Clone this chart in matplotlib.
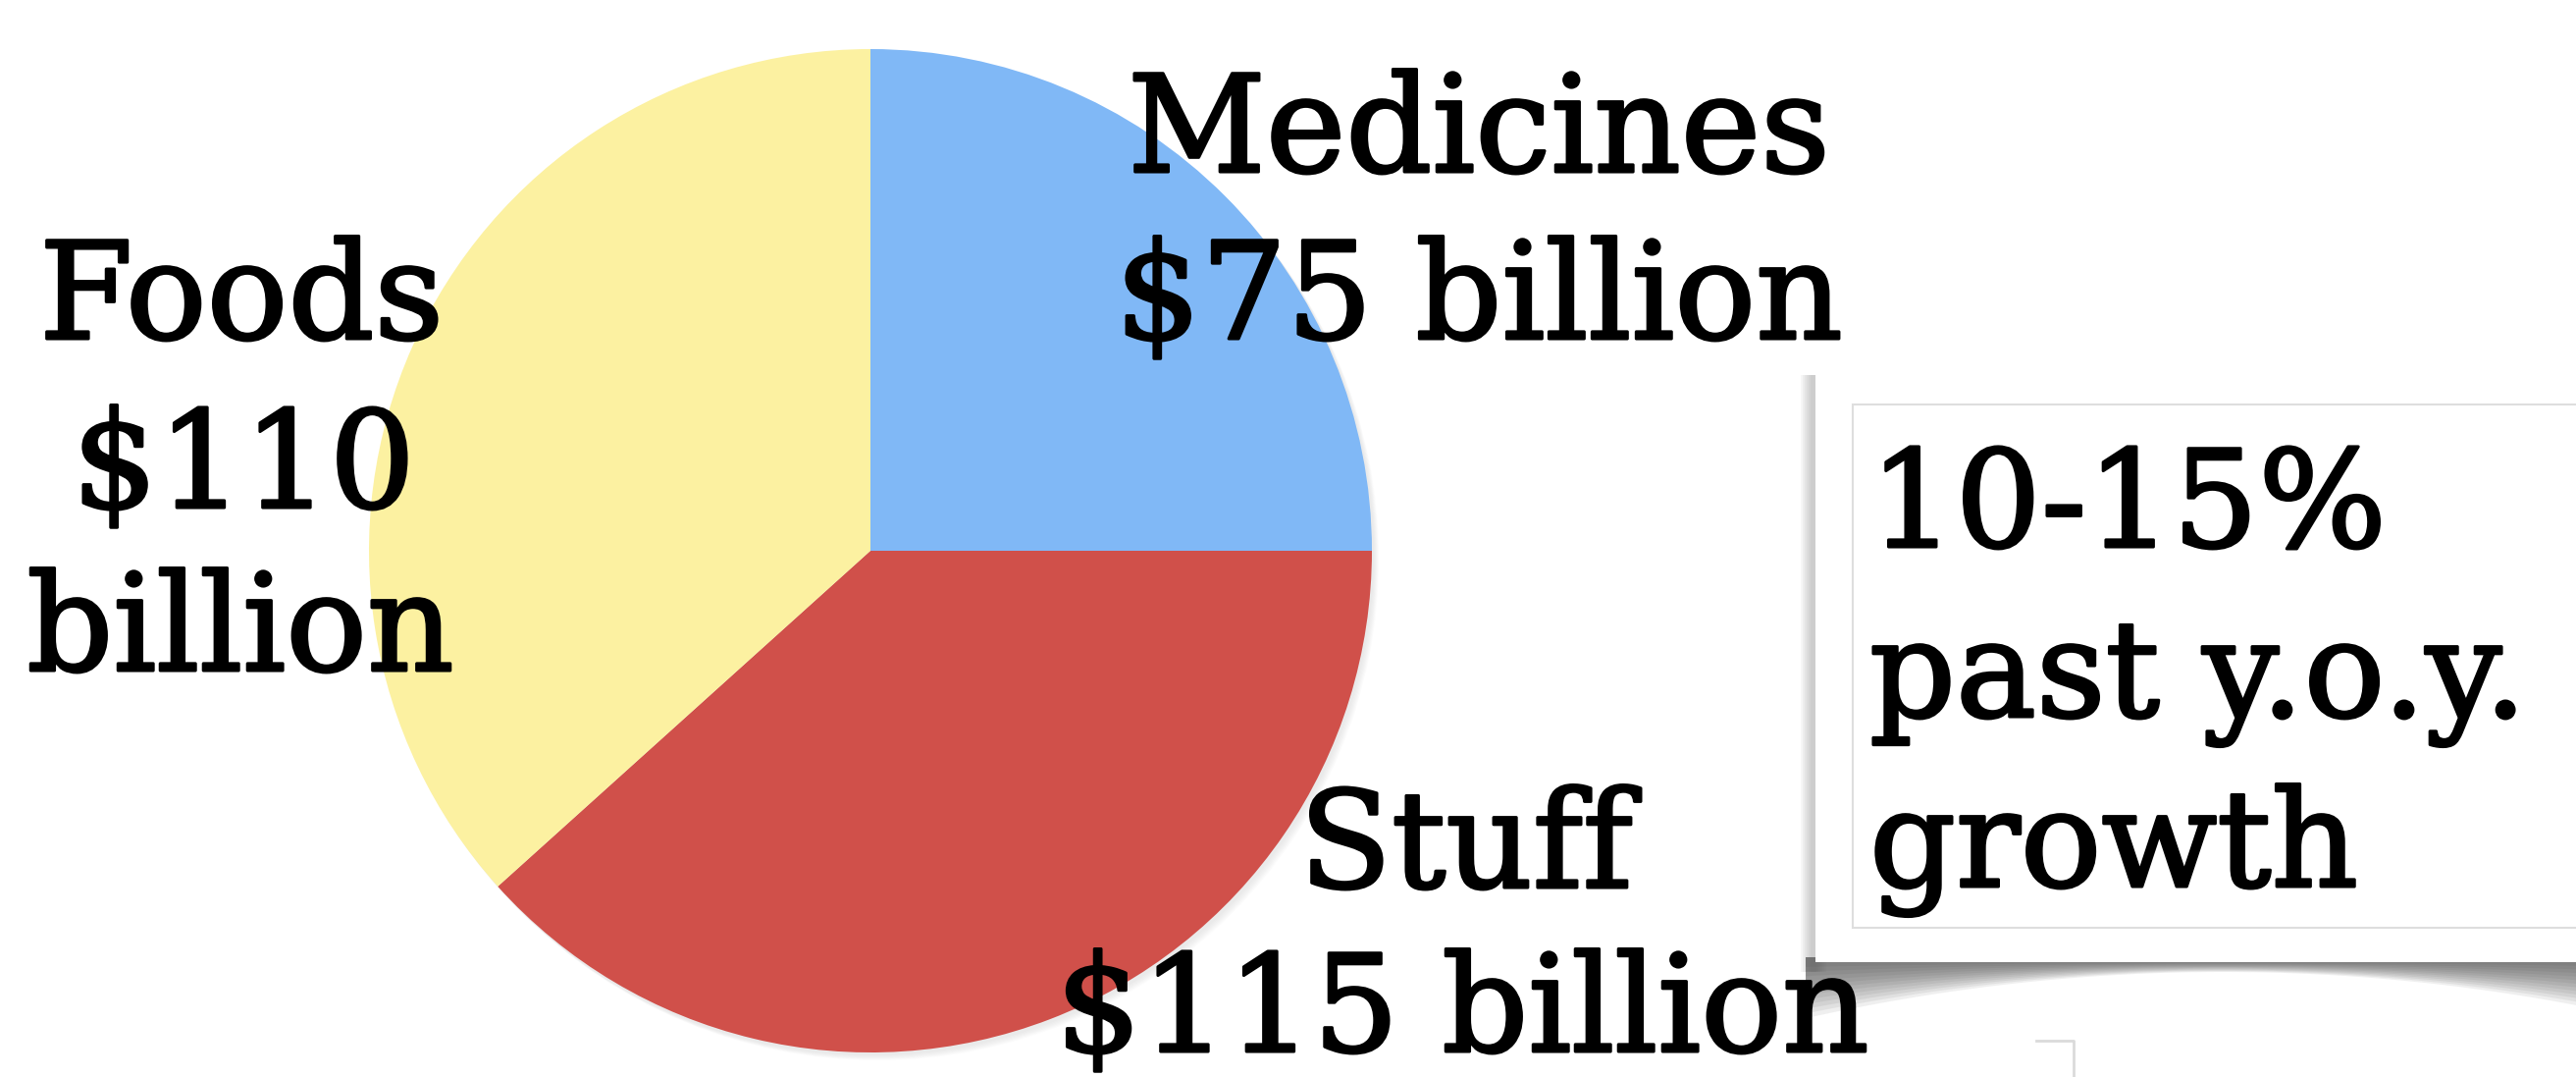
import numpy as np
import matplotlib.pyplot as plt
import matplotlib.patheffects as pe
from matplotlib.patches import Rectangle, Polygon

# market segments, in billions of dollars
segments = ["Medicines", "Stuff", "Foods"]
values = [75, 115, 110]
colors = ["#80b8f6", "#d0504a", "#fcf1a1"]

label_lines = {
    "Medicines": ["Medicines", "$75 billion"],
    "Stuff": ["Stuff", "$115 billion"],
    "Foods": ["Foods", "$110", "billion"],
}
growth_lines = ["10-15%", "past y.o.y.", "growth"]

W, H = 2625, 1097
FONT = "DejaVu Serif"
FS = 99
heavy = [pe.withStroke(linewidth=2.2, foreground="black", capstyle="round",
                       joinstyle="round")]


def Y(y):
    # pixel row (top = 0) -> data y
    return H - y


def label(x, y, s, ha="center"):
    ax.text(x, Y(y), s, family=FONT, fontsize=FS, ha=ha, va="baseline",
            path_effects=heavy, zorder=6)


fig = plt.figure(figsize=(W / 100, H / 100), dpi=100)
ax = fig.add_axes([0, 0, 1, 1])

# pie with a faint shadow
cx, cy, r = 887, 561, 511
for k in range(6):
    ax.add_patch(plt.Circle((cx + 2 + k, Y(cy + 3 + k)), r, color="#c0c0c0",
                            alpha=0.06, lw=0, zorder=1))
ax.pie(values, colors=colors, startangle=90, counterclock=False,
       center=(cx, Y(cy)), radius=r, frame=True,
       wedgeprops=dict(linewidth=0, zorder=2))
ax.set_xlim(0, W)
ax.set_ylim(0, H)
ax.set_aspect("equal")
ax.axis("off")

# pie labels
label(1507, 175, label_lines["Medicines"][0])
label(1507, 345, label_lines["Medicines"][1])
label(246, 345, label_lines["Foods"][0])
label(248, 517, label_lines["Foods"][1])
label(245, 683, label_lines["Foods"][2])
label(1494, 904, label_lines["Stuff"][0])
label(1490, 1071, label_lines["Stuff"][1])

# curled shadow under the note card
bx0, by0, by1 = 1850, 377, 980
xs = np.linspace(bx0 - 10, W + 10, 120)
xm, half = 2265, 415
for k in range(12):
    f = 1 - k / 12
    depth = (10 + 45 * ((xs - xm) / half) ** 2) * f
    lower = by1 + depth
    pts = list(zip(xs, [Y(by1 - 5)] * len(xs))) + list(zip(xs[::-1], Y(lower[::-1])))
    ax.add_patch(Polygon(pts, closed=True, color="#3a3a3a", alpha=0.08,
                         lw=0, zorder=3))
# soft shadow on the left edge
for k in range(8):
    ax.add_patch(Rectangle((bx0 - 1 - 2 * k, Y(by1 + 10)), 12, by1 - by0 + 5,
                           color="#505050", alpha=0.05, lw=0, zorder=3))

# note card
ax.add_patch(Rectangle((bx0, Y(by1)), W - bx0 + 20, by1 - by0, facecolor="white",
                       edgecolor="none", zorder=4))
ax.add_patch(Rectangle((1888, Y(945)), W - 1888 + 20, 945 - 412, facecolor="white",
                       edgecolor="#dedede", lw=1.5, zorder=4))
for i, line in enumerate(growth_lines):
    label(1905, 557 + i * 173, line, ha="left")

# faint frame edge at the bottom
ax.plot([2075, 2113, 2113], [Y(1060), Y(1060), Y(1100)], color="#dadada",
        lw=2, zorder=2)

fig.savefig("out.png", dpi=100, facecolor="white")
